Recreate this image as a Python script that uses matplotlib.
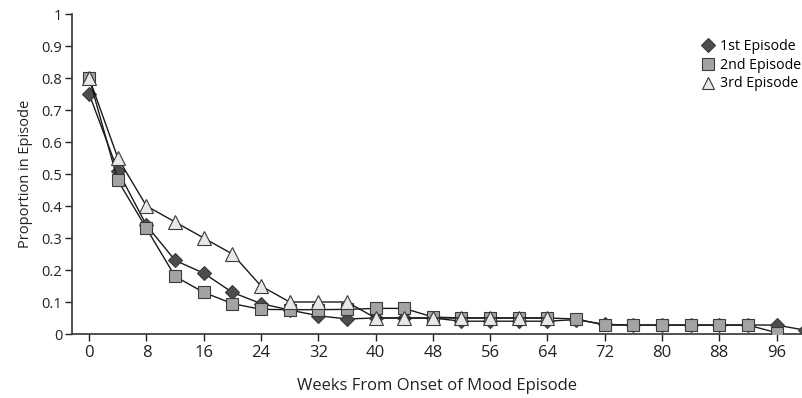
import numpy as np
import matplotlib
matplotlib.use("Agg")
import matplotlib.pyplot as plt
from matplotlib.lines import Line2D

plt.rcParams['font.family'] = ['Open Sans', 'DejaVu Sans']

# weeks from onset (every 4 weeks)
weeks_1st = [0, 4, 8, 12, 16, 20, 24, 28, 32, 36, 40, 44, 48, 52, 56, 60, 64, 68, 72, 76, 80, 84, 88, 92, 96, 100]
first_ep = [0.75, 0.51, 0.34, 0.23, 0.19, 0.13, 0.095, 0.075, 0.057, 0.047, 0.05, 0.05, 0.05, 0.04, 0.04, 0.04, 0.04,
            0.045, 0.03, 0.028, 0.028, 0.028, 0.028, 0.028, 0.028, 0.012]

weeks_2nd = [0, 4, 8, 12, 16, 20, 24, 28, 32, 36, 40, 44, 48, 52, 56, 60, 64, 68, 72, 76, 80, 84, 88, 92, 96]
second_ep = [0.80, 0.48, 0.33, 0.18, 0.13, 0.095, 0.077, 0.076, 0.076, 0.077, 0.08, 0.08, 0.053, 0.05, 0.05, 0.05, 0.05,
             0.047, 0.028, 0.028, 0.028, 0.028, 0.028, 0.028, 0.004]

weeks_3rd = [0, 4, 8, 12, 16, 20, 24, 28, 32, 36, 40, 44, 48, 52, 56, 60, 64]
third_ep = [0.80, 0.55, 0.40, 0.35, 0.30, 0.25, 0.15, 0.10, 0.10, 0.10, 0.05, 0.05, 0.05, 0.05, 0.05, 0.05, 0.05]

xticks = np.arange(0, 97, 8)
yticks = np.arange(0, 1.01, 0.1)
ytick_labels = ['0', '0.1', '0.2', '0.3', '0.4', '0.5', '0.6', '0.7', '0.8', '0.9', '1']

fig = plt.figure(figsize=(8.03, 3.98), dpi=100)
ax = fig.add_axes([72/803, 64/398, 1 - 72/803, 320/398])

edge = '#3a3a3a'
ax.plot(weeks_1st, first_ep, color='#1a1a1a', lw=1.0, marker='D', markersize=7.5,
        markerfacecolor='#4d4d4d', markeredgecolor=edge, markeredgewidth=0.8, label='1st Episode', zorder=3)
ax.plot(weeks_2nd, second_ep, color='#1a1a1a', lw=1.0, marker='s', markersize=9,
        markerfacecolor='#a3a3a3', markeredgecolor=edge, markeredgewidth=0.8, label='2nd Episode', zorder=4)
ax.plot(weeks_3rd, third_ep, color='#1a1a1a', lw=1.0, marker='^', markersize=10,
        markerfacecolor='#e8e8e8', markeredgecolor=edge, markeredgewidth=0.8, label='3rd Episode', zorder=5)

ax.set_xlim(-2.4, 99.7)
ax.set_ylim(0, 1)
ax.set_xticks(xticks)
ax.set_yticks(yticks)
ax.set_yticklabels(ytick_labels)
ax.tick_params(axis='both', colors='#222222', length=5, width=1, direction='out')
ax.tick_params(axis='x', labelsize=12, pad=3)
ax.tick_params(axis='y', labelsize=10.5, pad=2)

for s in ['top', 'right']:
    ax.spines[s].set_visible(False)
for s in ['left', 'bottom']:
    ax.spines[s].set_color('#333333')
    ax.spines[s].set_linewidth(1.2)

ax.set_xlabel('Weeks From Onset of Mood Episode', fontsize=12, color='#222222', labelpad=12)
ax.set_ylabel('Proportion in Episode', fontsize=10.5, color='#222222', labelpad=6)

# legend shows markers only
handles, labels = ax.get_legend_handles_labels()
leg_handles = []
for h in handles:
    leg_handles.append(Line2D([], [], linestyle='none', marker=h.get_marker(),
                              markersize=h.get_markersize() * 0.9,
                              markerfacecolor=h.get_markerfacecolor(),
                              markeredgecolor=h.get_markeredgecolor(),
                              markeredgewidth=0.8))
ax.legend(leg_handles, labels, loc='upper right', bbox_to_anchor=(1.0, 0.925), frameon=False,
          fontsize=10.2, handlelength=1.0, handletextpad=0.4, labelspacing=0.25, borderaxespad=0.0,
          borderpad=0.1)

fig.savefig('out.png', dpi=100)
